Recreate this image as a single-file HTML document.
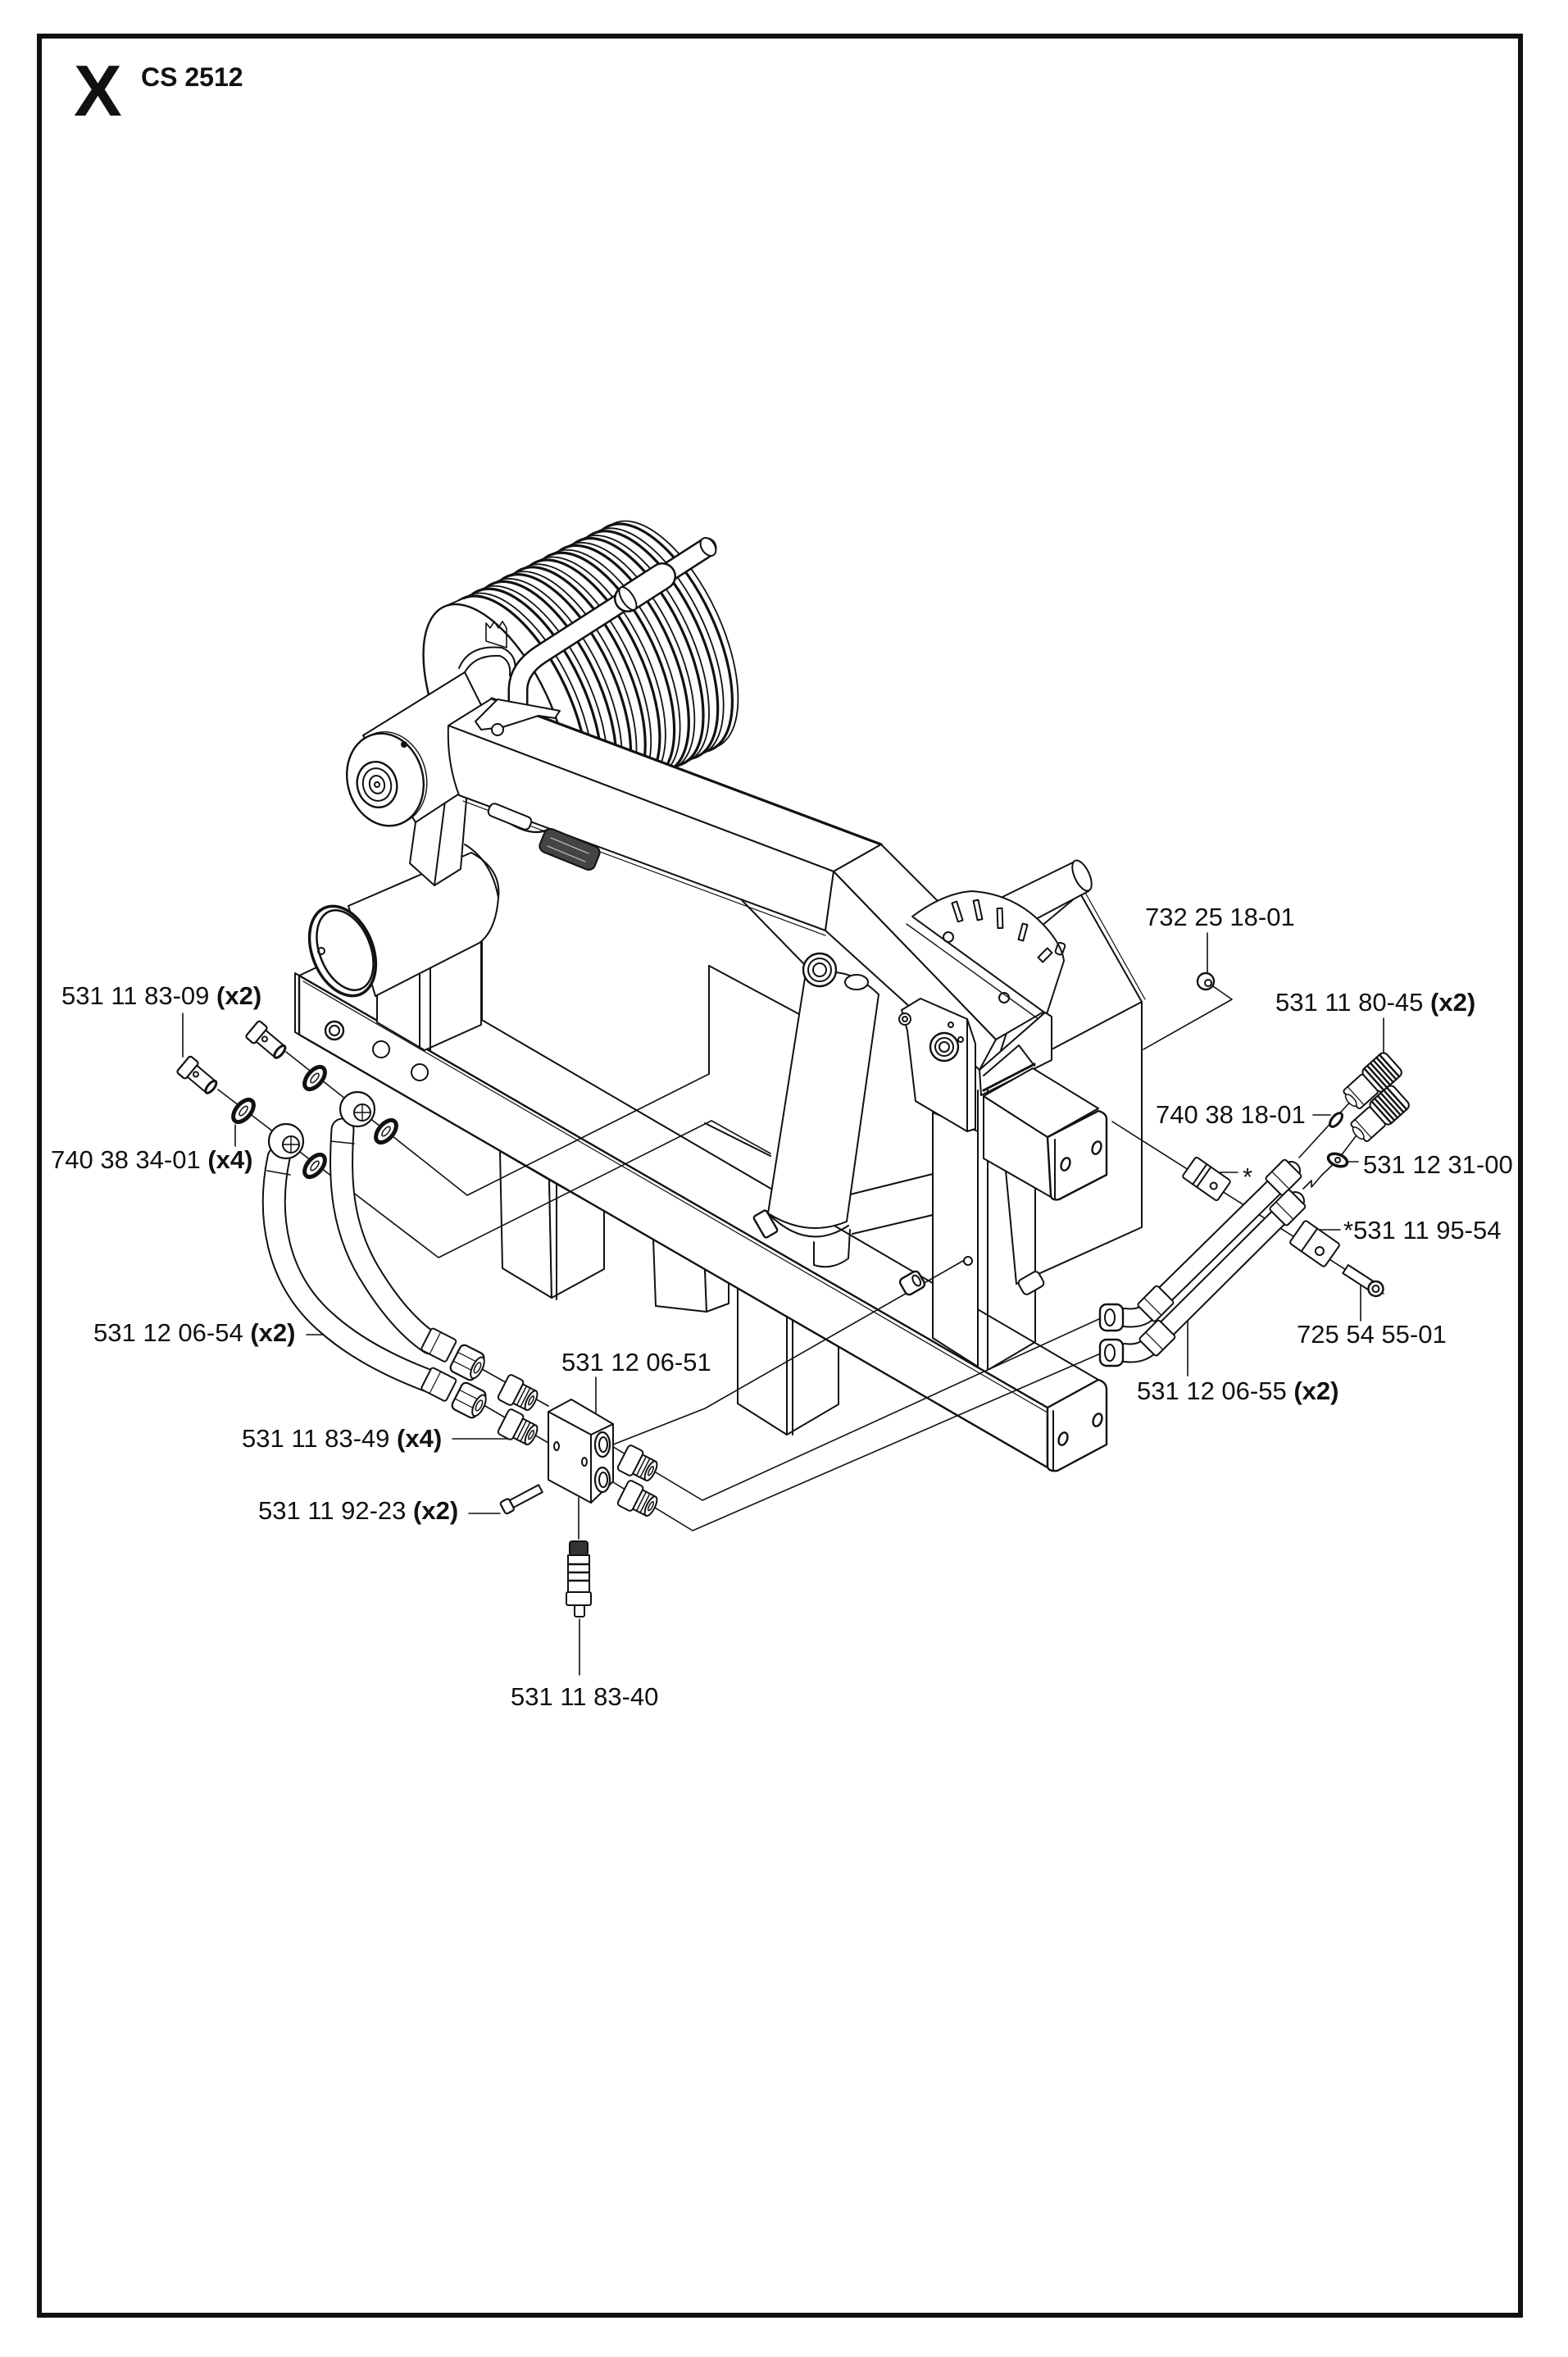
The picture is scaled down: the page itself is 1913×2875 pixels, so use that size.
<!DOCTYPE html>
<html><head><meta charset="utf-8"><style>
html,body{margin:0;padding:0;background:#fff;}
svg{display:block;}
text{font-family:"Liberation Sans",Arial,sans-serif;fill:#111;}
</style></head><body>
<svg xmlns="http://www.w3.org/2000/svg" width="1913" height="2875" viewBox="0 0 1913 2875">
<defs>
<g id="rib"><ellipse cx="7" cy="-3.5" rx="68" ry="150" transform="rotate(-25 7 -3.5)" fill="#fff" stroke="#111" stroke-width="1.8"/><ellipse cx="0" cy="0" rx="68" ry="150" transform="rotate(-25)" fill="#fff" stroke="#111" stroke-width="3.2"/></g>
<g id="washer"><ellipse cx="0" cy="0" rx="9" ry="16" fill="#fff" stroke="#111" stroke-width="5"/><ellipse cx="0" cy="0" rx="3" ry="7" fill="#fff" stroke="#111" stroke-width="1.5"/></g>
<g id="adapter"><rect x="-20" y="-17" width="20" height="34" rx="4" fill="#fff" stroke="#111" stroke-width="2"/><rect x="0" y="-13" width="18" height="26" fill="#fff" stroke="#111" stroke-width="2"/><path d="M5,-13 V13 M10,-13 V13" stroke="#111" stroke-width="1.5"/><ellipse cx="18" cy="0" rx="5" ry="13" fill="#fff" stroke="#111" stroke-width="2"/><ellipse cx="18" cy="0" rx="2" ry="6" fill="none" stroke="#111" stroke-width="1.5"/></g>
<g id="nut"><rect x="-16" y="-18" width="32" height="36" rx="6" fill="#fff" stroke="#111" stroke-width="2.2"/><path d="M-16,-6 H16 M-16,6 H16" stroke="#111" stroke-width="1.2"/><ellipse cx="14" cy="0" rx="6" ry="14" fill="#fff" stroke="#111" stroke-width="2"/><ellipse cx="14" cy="0" rx="3" ry="7" fill="none" stroke="#111" stroke-width="1.5"/></g>
<g id="ferrule"><rect x="-20" y="-15" width="34" height="30" rx="3" fill="#fff" stroke="#111" stroke-width="2"/><path d="M-8,-15 V15" stroke="#111" stroke-width="1.2"/></g>
<g id="coupler"><rect x="-36" y="-15" width="32" height="30" rx="3" fill="#fff" stroke="#111" stroke-width="2"/><path d="M-28,-15 V15" stroke="#111" stroke-width="1.2"/><ellipse cx="-36" cy="0" rx="4" ry="9" fill="#fff" stroke="#111" stroke-width="1.5"/><rect x="-4" y="-18" width="38" height="36" rx="6" fill="#fff" stroke="#111" stroke-width="2"/><path d="M2,-18 V18 M7,-18 V18 M12,-18 V18 M17,-18 V18 M22,-18 V18 M27,-18 V18" stroke="#111" stroke-width="2.4"/></g>
</defs>

<rect x="48" y="44" width="1807" height="2780" fill="none" stroke="#111" stroke-width="6"/>
<text x="90" y="141" font-size="88" font-weight="bold">X</text>
<text x="172" y="105" font-size="32" font-weight="bold">CS 2512</text>

<g fill="none" stroke="#111" stroke-width="2" stroke-linejoin="round" stroke-linecap="round">

<!-- big right plate -->
<path d="M1318,1090 L1393,1222 L1393,1497 L1240,1566 L1215,1300 L1270,1130 Z" fill="#fff"/>
<path d="M1323,1087 L1397,1219" stroke-width="1.2"/>
<path d="M1283,1280 L1393,1222"/>

<!-- panel lines -->
<path d="M583,1147 V1250 M588,1147 V1250"/>
<path d="M865,1178 V1310 M865,1178 L975,1237"/>
<path d="M860,1370 L940,1410"/>
<path d="M905,1098 L980,1175"/>
<path d="M1037,1457 L1138,1432 M1040,1505 L1138,1482"/>
<path d="M1117,1300 V1343 L1180,1380"/>

<!-- legs -->
<path d="M610,1404 L670,1439 L673,1583 L613,1547 Z" fill="#fff"/>
<path d="M670,1439 L737,1477 L737,1548 L673,1583 Z" fill="#fff"/>
<path d="M679,1444 V1585"/>
<path d="M797,1511 L860,1548 L862,1600 L800,1593 Z" fill="#fff"/>
<path d="M860,1548 L889,1540 L889,1590 L862,1600 Z" fill="#fff"/>
<path d="M900,1571 L960,1605 L960,1750 L900,1712 Z" fill="#fff"/>
<path d="M960,1605 L1023,1642 L1023,1713 L960,1750 Z" fill="#fff"/>
<path d="M967,1609 V1750"/>

<!-- front beam -->
<path d="M365,1190 L437,1156 L1340,1683 L1278,1717 Z" fill="#fff"/>
<path d="M365,1190 L1278,1717 L1278,1790 L365,1262 Z" fill="#fff" stroke-width="2.4"/>
<path d="M370,1197 L1278,1723" stroke-width="1.2"/>
<path d="M360,1187 L365,1190 M360,1187 V1259 L365,1262"/>
<path d="M1278,1717 L1340,1683 Q1350,1686 1350,1695 L1350,1762 L1290,1794 Q1278,1795 1278,1788 Z" fill="#fff" stroke-width="2.4"/>
<path d="M1285,1721 V1792"/>
<ellipse cx="1297" cy="1755" rx="5" ry="8" transform="rotate(20 1297 1755)" stroke-width="2.4"/>
<ellipse cx="1339" cy="1732" rx="5" ry="8" transform="rotate(20 1339 1732)" stroke-width="2.4"/>
<circle cx="408" cy="1257" r="11" stroke-width="2.4"/><circle cx="408" cy="1257" r="6"/>
<circle cx="465" cy="1280" r="10"/><circle cx="512" cy="1308" r="10"/>

<!-- left tube on beam -->
<path d="M460,1207 V1247 L518,1281 L587,1250 V1147 Z" fill="#fff"/>
<path d="M512,1185 V1279 M525,1180 V1282"/>
<path d="M425,1105 L575,1040 Q612,1060 608,1095 Q605,1135 585,1150 L458,1215 Z" fill="#fff"/>
<ellipse cx="418" cy="1160" rx="37" ry="57" transform="rotate(-22 418 1160)" fill="#fff" stroke-width="3.5"/>
<ellipse cx="421" cy="1159" rx="31" ry="51" transform="rotate(-22 421 1159)" stroke-width="2.5"/>
<circle cx="392" cy="1160" r="4"/>

<!-- drum -->
<use href="#rib" x="805" y="778"/>
<use href="#rib" x="787.3" y="786.8"/>
<use href="#rib" x="769.6" y="795.6"/>
<use href="#rib" x="751.9" y="804.4"/>
<use href="#rib" x="734.2" y="813.2"/>
<use href="#rib" x="716.5" y="822"/>
<use href="#rib" x="698.8" y="830.8"/>
<use href="#rib" x="681.1" y="839.6"/>
<use href="#rib" x="663.4" y="848.4"/>
<use href="#rib" x="645.7" y="857.2"/>
<use href="#rib" x="628" y="866"/>
<path d="M542,740 L565,730 L691,1002 L668,1012 Z" fill="#fff" stroke="none"/>
<path d="M542,740 L565,730 M668,1012 L691,1002"/>
<ellipse cx="605" cy="876" rx="68" ry="150" transform="rotate(-25 605 876)" fill="#fff" stroke-width="2.4"/>
<path d="M560,815 Q572,786 612,790 Q632,798 628,822"/>
<path d="M566,822 Q578,798 610,800 Q624,806 622,824"/>
<path d="M593,782 l0,-22 l5,6 l5,-8 l5,8 l5,-8 l5,8 l0,24 z" stroke-width="1.6"/>

<!-- handle rod over drum -->
<path d="M862,668 L660,798 Q632,816 632,842 L632,862" stroke="#111" stroke-width="25"/>
<path d="M862,668 L660,798 Q632,816 632,842 L632,862" stroke="#fff" stroke-width="20"/>
<ellipse cx="864" cy="667" rx="8" ry="12" transform="rotate(-33 864 667)" fill="#fff"/>
<path d="M766,730 L808,703" stroke="#111" stroke-width="34"/>
<path d="M766,730 L808,703" stroke="#fff" stroke-width="29"/>
<ellipse cx="766" cy="730" rx="7" ry="16" transform="rotate(-33 766 730)" fill="#fff"/>

<!-- hub support post -->
<path d="M507,1003 L543,977 L570,963 L562,1060 L530,1080 L500,1053 Z" fill="#fff"/>
<path d="M543,977 L530,1080"/>
<path d="M567,1030 Q600,1050 608,1095" />

<!-- hub cylinder -->
<path d="M443,897 L567,820 L592,870 L562,967 L507,1003 Z" fill="#fff"/>

<!-- arm segment 1 -->
<path d="M600,852 L1075,1030 L1017,1063 L547,885 Z" fill="#fff"/>
<path d="M600,852 L1075,1030" stroke-width="3.2"/>
<path d="M547,885 L1017,1063 L1007,1135 L560,970 Q545,930 547,885 Z" fill="#fff"/>
<path d="M565,977 L1007,1141" stroke-width="1.2"/>
<!-- arm segment 2 -->
<path d="M1075,1030 L1277,1232 L1215,1268 L1017,1063 Z" fill="#fff"/>
<path d="M1017,1063 L1215,1268 L1195,1305 L1007,1135 Z" fill="#fff"/>

<!-- hub end disc -->
<ellipse cx="474" cy="949" rx="46" ry="57" transform="rotate(-15 474 949)" fill="#fff" stroke-width="1.4"/>
<ellipse cx="470" cy="951" rx="46" ry="57" transform="rotate(-15 470 951)" fill="#fff" stroke-width="2.4"/>
<ellipse cx="460" cy="957" rx="24" ry="28" transform="rotate(-15 460 957)" stroke-width="2.4"/>
<ellipse cx="460" cy="957" rx="17" ry="20" transform="rotate(-15 460 957)"/>
<ellipse cx="460" cy="957" rx="9" ry="11" transform="rotate(-15 460 957)"/>
<circle cx="460" cy="957" r="3"/>
<circle cx="493" cy="908" r="3" fill="#111"/>

<!-- bracket on arm -->
<path d="M580,880 L607,853 L683,867 L677,876 L657,873 L613,887 L587,890 Z" fill="#fff"/>
<circle cx="607" cy="890" r="7" fill="#fff"/>
<rect x="-27" y="-8" width="54" height="16" rx="6" transform="translate(622,996) rotate(22)" fill="#fff"/>
<rect x="-36" y="-15" width="72" height="30" rx="8" transform="translate(695,1036) rotate(22)" fill="#444"/>
<path d="M672,1022 L718,1041 M668,1032 L714,1051" stroke="#ccc" stroke-width="1.2"/>

<!-- right handle tube -->
<path d="M1215,1098 L1313,1050 L1328,1087 L1262,1122 Z" fill="#fff"/>
<ellipse cx="1320" cy="1068" rx="9" ry="20" transform="rotate(-25 1320 1068)" fill="#fff"/>

<!-- sector plate -->
<path d="M1113,1118 Q1150,1090 1185,1087 Q1235,1090 1270,1125 Q1295,1150 1298,1172 L1277,1237 Z" fill="#fff"/>
<path d="M1106,1127 L1271,1246" stroke-width="1.4"/>
<rect x="-3" y="-12" width="6" height="24" transform="translate(1168,1112) rotate(-18)"/>
<rect x="-3" y="-12" width="6" height="24" transform="translate(1193,1110) rotate(-12)"/>
<rect x="-3" y="-12" width="6" height="24" transform="translate(1220,1120) rotate(-2)"/>
<rect x="-3" y="-10" width="6" height="20" transform="translate(1248,1137) rotate(15)"/>
<rect x="-4" y="-8" width="8" height="16" transform="translate(1275,1165) rotate(45)"/>
<circle cx="1157" cy="1143" r="6"/><circle cx="1225" cy="1217" r="6"/>
<rect x="1289" y="1150" width="9" height="14" rx="3" transform="rotate(20 1293 1157)"/>

<!-- jaw -->
<path d="M1195,1305 L1275,1235 L1283,1240 L1283,1293 L1197,1336 Z" fill="#fff"/>
<path d="M1200,1312 L1243,1275 L1262,1300"/>
<path d="M1200,1330 L1262,1298" stroke-width="3" stroke-dasharray="2 2"/>

<!-- thin plate and post -->
<path d="M1193,1330 V1667 M1205,1330 V1670"/>
<path d="M1138,1357 L1193,1380 V1667 L1138,1632 Z" fill="#fff"/>
<path d="M1207,1670 L1263,1637 V1440"/>
<rect x="-14" y="-10" width="28" height="20" rx="5" transform="translate(1258,1565) rotate(-30)" fill="#fff"/>

<!-- pivot block -->
<path d="M1100,1232 L1123,1218 L1180,1243 L1190,1273 L1190,1377 L1180,1380 L1117,1343 L1107,1257 Z" fill="#fff"/>
<path d="M1180,1243 V1380"/>
<circle cx="1152" cy="1277" r="17" stroke-width="2.4"/><circle cx="1152" cy="1277" r="11"/><circle cx="1152" cy="1277" r="6"/>
<circle cx="1104" cy="1243" r="7" fill="#fff"/><circle cx="1104" cy="1243" r="3"/>
<circle cx="1160" cy="1250" r="3"/><circle cx="1172" cy="1268" r="3"/>

<!-- upper box -->
<path d="M1200,1337 L1278,1387 L1282,1460 L1200,1413 Z" fill="#fff"/>
<path d="M1200,1337 L1260,1303 L1340,1352 L1278,1387 Z" fill="#fff"/>
<path d="M1278,1387 L1340,1355 Q1350,1358 1350,1365 L1350,1433 L1292,1463 Q1282,1465 1282,1457 Z" fill="#fff" stroke-width="2.4"/>
<path d="M1287,1390 V1462"/>
<ellipse cx="1300" cy="1420" rx="5" ry="8" transform="rotate(20 1300 1420)" stroke-width="2.4"/>
<ellipse cx="1338" cy="1400" rx="5" ry="8" transform="rotate(20 1338 1400)" stroke-width="2.4"/>

<!-- hydraulic cylinder -->
<path d="M982,1193 Q1030,1172 1072,1213 L1033,1490 Q985,1510 937,1480 Z" fill="#fff"/>
<path d="M937,1480 Q985,1528 1035,1495"/>
<path d="M993,1515 L993,1543 Q1015,1550 1035,1535 L1037,1500"/>
<rect x="925" y="1478" width="18" height="30" rx="3" transform="rotate(-30 934 1493)" fill="#fff" stroke-width="2.4"/>
<circle cx="1000" cy="1183" r="20" fill="#fff" stroke-width="2.4"/><circle cx="1000" cy="1183" r="14"/><circle cx="1000" cy="1183" r="8"/>
<ellipse cx="1045" cy="1198" rx="14" ry="9" fill="#fff"/>

<!-- leader / centre lines -->
<g stroke-width="1.6">
<path d="M266,1329 L535,1534 L868,1367 L940,1407"/>
<path d="M349,1283 L570,1458 L865,1310"/>
<path d="M588,1670 L669,1715 M592,1715 L669,1760"/>
<path d="M735,1757 L857,1830 L1345,1607"/>
<path d="M735,1800 L845,1867 L1345,1650"/>
<path d="M748,1762 L860,1718 L1180,1535"/>
<path d="M706,1827 V1877"/>
<path d="M1357,1368 L1688,1578"/>
<path d="M1480,1203 L1503,1219 L1395,1280"/>
<path d="M1585,1412 L1650,1341"/>
<path d="M1590,1450 L1600,1440 L1600,1448 L1612,1434 L1632,1415 L1660,1378"/>
<!-- label leaders -->
<path d="M223,1236 V1289"/>
<path d="M287,1372 V1398"/>
<path d="M374,1628 H409"/>
<path d="M552,1755 H624"/>
<path d="M572,1846 H610"/>
<path d="M707,1975 V2043"/>
<path d="M727,1680 V1723"/>
<path d="M1473,1138 V1188"/>
<path d="M1688,1242 V1292"/>
<path d="M1602,1360 H1623"/>
<path d="M1643,1417 H1657"/>
<path d="M1483,1430 H1510"/>
<path d="M1607,1500 H1635"/>
<path d="M1660,1562 V1611"/>
<path d="M1449,1602 V1678"/>
</g>

<!-- clamp nut + bolt near centre -->
<g transform="translate(1113,1565) rotate(-30)"><rect x="-13" y="-11" width="26" height="22" rx="5" fill="#fff" stroke-width="2.4"/><ellipse cx="6" cy="0" rx="4" ry="7"/></g>
<circle cx="1181" cy="1538" r="5" fill="#fff"/>

<!-- left banjo bolts / washers / eyes -->
<g transform="translate(242,1313) rotate(40)"><rect x="-24" y="-13" width="14" height="26" rx="3" fill="#fff" stroke-width="2.2"/><rect x="-10" y="-9" width="30" height="18" fill="#fff"/><ellipse cx="20" cy="0" rx="4" ry="9" fill="#fff" stroke-width="3"/><circle cx="-4" cy="0" r="3"/></g>
<g transform="translate(326,1270) rotate(40)"><rect x="-24" y="-13" width="14" height="26" rx="3" fill="#fff" stroke-width="2.2"/><rect x="-10" y="-9" width="30" height="18" fill="#fff"/><ellipse cx="20" cy="0" rx="4" ry="9" fill="#fff" stroke-width="3"/><circle cx="-4" cy="0" r="3"/></g>
<use href="#washer" transform="translate(297,1355) rotate(40)"/>
<use href="#washer" transform="translate(384,1315) rotate(40)"/>

<!-- left hoses -->
<path d="M340,1412 C326,1480 335,1560 400,1615 C440,1650 490,1672 525,1685" stroke="#111" stroke-width="29"/>
<path d="M340,1412 C326,1480 335,1560 400,1615 C440,1650 490,1672 525,1685" stroke="#fff" stroke-width="25"/>
<path d="M418,1378 C414,1440 416,1500 455,1560 C480,1600 505,1625 525,1638" stroke="#111" stroke-width="29"/>
<path d="M418,1378 C414,1440 416,1500 455,1560 C480,1600 505,1625 525,1638" stroke="#fff" stroke-width="25"/>
<path d="M326,1428 L354,1433 M404,1392 L432,1395" stroke-width="1.6"/>
<circle cx="349" cy="1392" r="21" fill="#fff" stroke-width="2.2"/>
<circle cx="355" cy="1396" r="10" fill="#fff"/><path d="M345,1396 H365 M355,1386 V1406" stroke-width="1.4"/>
<circle cx="436" cy="1353" r="21" fill="#fff" stroke-width="2.2"/>
<circle cx="442" cy="1357" r="10" fill="#fff"/><path d="M432,1357 H452 M442,1347 V1367" stroke-width="1.4"/>
<use href="#washer" transform="translate(384,1422) rotate(40)"/>
<use href="#washer" transform="translate(471,1380) rotate(40)"/>

<!-- hose fittings -->
<use href="#ferrule" transform="translate(538,1642) rotate(27)"/>
<use href="#ferrule" transform="translate(538,1690) rotate(27)"/>
<use href="#nut" transform="translate(570,1662) rotate(27)"/>
<use href="#nut" transform="translate(572,1708) rotate(27)"/>
<use href="#adapter" transform="translate(632,1700) rotate(27)"/>
<use href="#adapter" transform="translate(632,1742) rotate(27)"/>

<!-- valve block -->
<path d="M669,1722 L697,1707 L748,1737 L721,1750 Z" fill="#fff"/>
<path d="M669,1722 L721,1750 L721,1833 L669,1805 Z" fill="#fff"/>
<path d="M721,1750 L748,1737 L748,1807 L721,1833 Z" fill="#fff"/>
<ellipse cx="735" cy="1762" rx="9" ry="15" fill="#fff" stroke-width="2.2"/><ellipse cx="736" cy="1762" rx="5" ry="9"/>
<ellipse cx="735" cy="1805" rx="9" ry="15" fill="#fff" stroke-width="2.2"/><ellipse cx="736" cy="1805" rx="5" ry="9"/>
<ellipse cx="679" cy="1764" rx="3" ry="5"/><ellipse cx="713" cy="1783" rx="3" ry="5"/>
<use href="#adapter" transform="translate(778,1786) rotate(27)"/>
<use href="#adapter" transform="translate(778,1829) rotate(27)"/>
<!-- block bolt -->
<g transform="translate(640,1826) rotate(-28)"><rect x="-20" y="-5" width="42" height="10" fill="#fff"/><rect x="-30" y="-8" width="12" height="16" rx="3" fill="#fff" stroke-width="2.2"/></g>
<!-- bottom fitting -->
<rect x="695" y="1880" width="22" height="17" rx="3" fill="#333"/>
<rect x="693" y="1897" width="26" height="45" fill="#fff"/>
<path d="M693,1908 H719 M693,1918 H719 M693,1928 H719" stroke-width="2.4"/>
<rect x="691" y="1942" width="30" height="16" rx="2" fill="#fff"/>
<rect x="701" y="1958" width="12" height="14" rx="2" fill="#fff"/>

<!-- nut 732 25 18-01 -->
<circle cx="1471" cy="1197" r="10" fill="#fff" stroke-width="2.4"/><circle cx="1474" cy="1199" r="4"/>

<!-- right clamps and bolt -->
<g transform="translate(1472,1438) rotate(35)"><rect x="-26" y="-15" width="52" height="30" rx="3" fill="#fff"/><path d="M-10,-15 V15 M-4,-15 V15"/><circle cx="12" cy="2" r="4"/></g>
<g transform="translate(1604,1517) rotate(35)"><rect x="-26" y="-17" width="52" height="34" rx="3" fill="#fff"/><path d="M-8,-17 V17"/><circle cx="10" cy="4" r="5"/></g>
<g transform="translate(1660,1560) rotate(33)"><rect x="-22" y="-6" width="40" height="12" fill="#fff"/><circle cx="22" cy="0" r="9" fill="#fff" stroke-width="2.4"/><circle cx="22" cy="0" r="4"/></g>

<!-- right hoses -->
<path d="M1372,1607 Q1395,1610 1405,1595 L1575,1428" stroke="#111" stroke-width="24"/>
<path d="M1372,1607 Q1395,1610 1405,1595 L1575,1428" stroke="#fff" stroke-width="20"/>
<path d="M1372,1650 Q1395,1653 1407,1637 L1580,1465" stroke="#111" stroke-width="24"/>
<path d="M1372,1650 Q1395,1653 1407,1637 L1580,1465" stroke="#fff" stroke-width="20"/>
<use href="#ferrule" transform="translate(1412,1588) rotate(-45)"/>
<use href="#ferrule" transform="translate(1414,1630) rotate(-45)"/>
<use href="#ferrule" transform="translate(1568,1434) rotate(-45)"/>
<use href="#ferrule" transform="translate(1573,1471) rotate(-45)"/>
<g transform="translate(1356,1607)"><rect x="-14" y="-16" width="28" height="32" rx="8" fill="#fff" stroke-width="2.4"/><ellipse cx="-2" cy="0" rx="6" ry="10"/></g>
<g transform="translate(1356,1650)"><rect x="-14" y="-16" width="28" height="32" rx="8" fill="#fff" stroke-width="2.4"/><ellipse cx="-2" cy="0" rx="6" ry="10"/></g>

<!-- couplers, o-ring, washer -->
<use href="#coupler" transform="translate(1675,1318) rotate(-42)"/>
<use href="#coupler" transform="translate(1684,1358) rotate(-42)"/>
<ellipse cx="1630" cy="1366" rx="5" ry="10" transform="rotate(40 1630 1366)" fill="#fff" stroke-width="3"/>
<ellipse cx="1632" cy="1415" rx="12" ry="7" transform="rotate(20 1632 1415)" fill="#fff" stroke-width="3.5"/>
<circle cx="1632" cy="1415" r="3"/>
</g>

<!-- labels -->
<g font-size="31">
<text x="75" y="1225">531 11 83-09 <tspan font-weight="bold">(x2)</tspan></text>
<text x="62" y="1425">740 38 34-01 <tspan font-weight="bold">(x4)</tspan></text>
<text x="114" y="1636">531 12 06-54 <tspan font-weight="bold">(x2)</tspan></text>
<text x="295" y="1765">531 11 83-49 <tspan font-weight="bold">(x4)</tspan></text>
<text x="315" y="1853">531 11 92-23 <tspan font-weight="bold">(x2)</tspan></text>
<text x="623" y="2080">531 11 83-40</text>
<text x="685" y="1672">531 12 06-51</text>
<text x="1397" y="1129">732 25 18-01</text>
<text x="1556" y="1233">531 11 80-45 <tspan font-weight="bold">(x2)</tspan></text>
<text x="1410" y="1370">740 38 18-01</text>
<text x="1663" y="1431">531 12 31-00</text>
<text x="1516" y="1446">*</text>
<text x="1639" y="1511">*531 11 95-54</text>
<text x="1582" y="1638">725 54 55-01</text>
<text x="1387" y="1707">531 12 06-55 <tspan font-weight="bold">(x2)</tspan></text>
</g>
</svg>
</body></html>
